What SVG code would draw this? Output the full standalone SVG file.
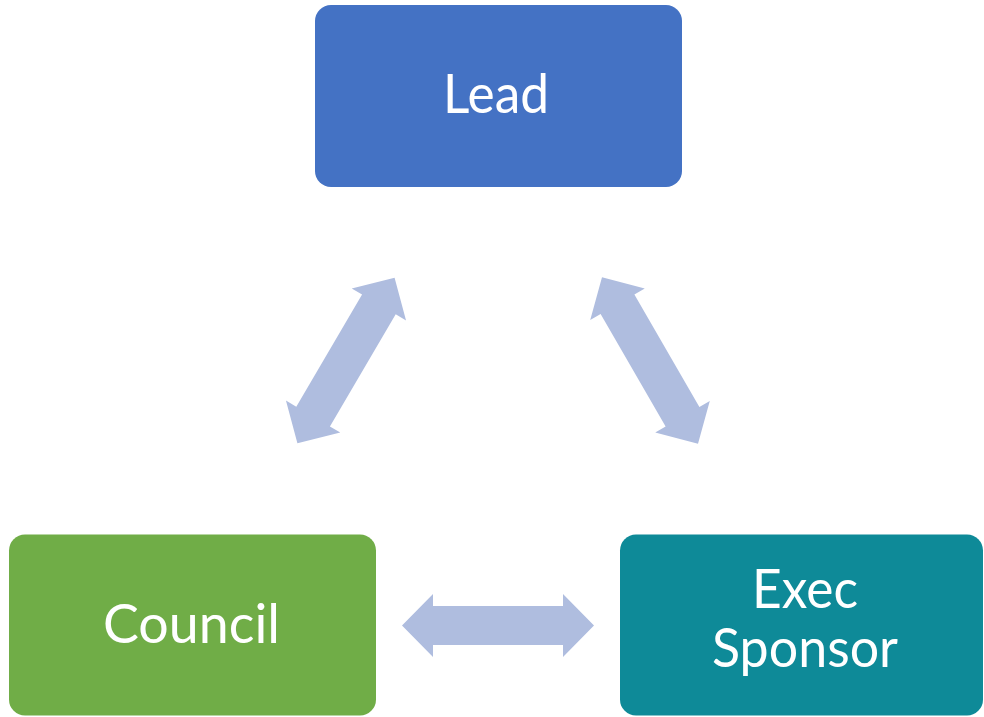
<svg xmlns="http://www.w3.org/2000/svg" xmlns:xlink="http://www.w3.org/1999/xlink" width="984" height="717" viewBox="0 0 984 717">
  <style>
    .box-text { font-family: "Lato", "Open Sans", "Liberation Sans", sans-serif; font-size: 54px; fill: #ffffff; text-anchor: middle; }
    .link { fill: #AFBDDF; }
  </style>
  <defs>
    <!-- double-headed block arrow, centred on the origin, pointing along x -->
    <polygon id="dbl-arrow" points="-96,0 -65,-31.5 -65,-19.5 65,-19.5 65,-31.5 96,0 65,31.5 65,19.5 -65,19.5 -65,31.5"/>
  </defs>

  <rect width="984" height="717" fill="#ffffff"/>

  <g id="connectors">
    <use xlink:href="#dbl-arrow" class="link" transform="translate(346,360.5) rotate(-59.6)"/>
    <use xlink:href="#dbl-arrow" class="link" transform="translate(650,360.5) rotate(60)"/>
    <use xlink:href="#dbl-arrow" class="link" transform="translate(498,625.5)"/>
  </g>

  <g id="node-lead">
    <rect x="315" y="5" width="367" height="182" rx="16" fill="#4472C4"/>
    <text class="box-text" x="496" y="113" textLength="106" lengthAdjust="spacingAndGlyphs">Lead</text>
  </g>

  <g id="node-council">
    <rect x="9" y="534.5" width="367" height="181" rx="16" fill="#70AD47"/>
    <text class="box-text" x="191.5" y="643" textLength="177" lengthAdjust="spacingAndGlyphs">Council</text>
  </g>

  <g id="node-exec-sponsor">
    <rect x="620" y="534.5" width="363" height="181" rx="16" fill="#0E8A98"/>
    <text class="box-text" x="805" y="608" textLength="106" lengthAdjust="spacingAndGlyphs">Exec</text>
    <text class="box-text" x="805" y="667" textLength="186" lengthAdjust="spacingAndGlyphs">Sponsor</text>
  </g>
</svg>
